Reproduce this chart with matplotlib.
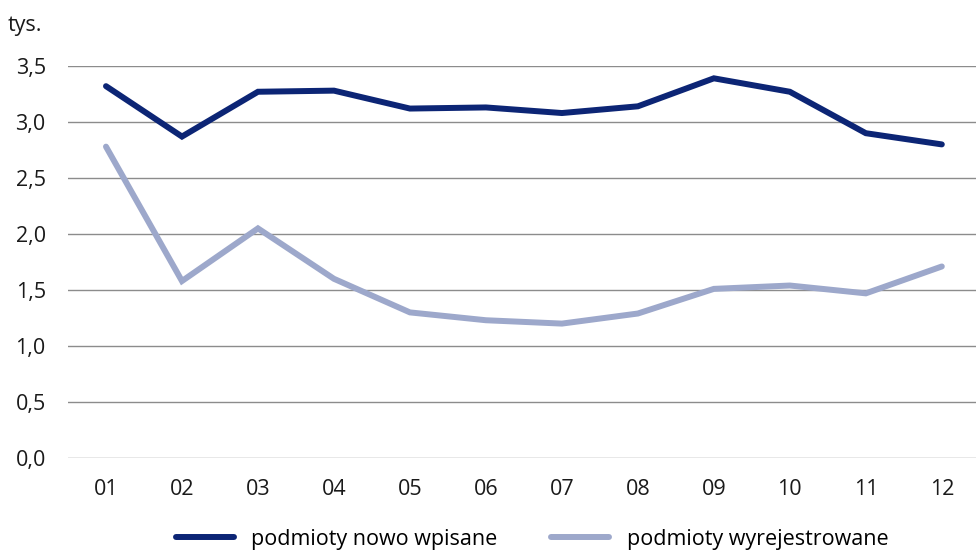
import matplotlib
matplotlib.use("Agg")
import matplotlib.pyplot as plt
from matplotlib.lines import Line2D

months = ["01", "02", "03", "04", "05", "06", "07", "08", "09", "10", "11", "12"]
nowo_wpisane = [3.32, 2.87, 3.27, 3.28, 3.12, 3.13, 3.08, 3.14, 3.39, 3.27, 2.90, 2.80]
wyrejestrowane = [2.78, 1.58, 2.05, 1.60, 1.30, 1.23, 1.20, 1.29, 1.51, 1.54, 1.47, 1.71]
y_ticks = [0.0, 0.5, 1.0, 1.5, 2.0, 2.5, 3.0, 3.5]
y_tick_labels = ["0,0", "0,5", "1,0", "1,5", "2,0", "2,5", "3,0", "3,5"]

dark = "#0c2575"
light = "#9da8cb"

plt.rcParams['font.family'] = ['Open Sans', 'DejaVu Sans']

fig = plt.figure(figsize=(9.76, 5.52), dpi=100)
ax = fig.add_axes([68/976, 1 - 458/552, 1 - 68/976, (458 - 66)/552])

x = list(range(1, len(months) + 1))
ax.plot(x, nowo_wpisane, color=dark, lw=4.3, solid_capstyle='round', solid_joinstyle='miter', zorder=3)
ax.plot(x, wyrejestrowane, color=light, lw=4.3, solid_capstyle='round', solid_joinstyle='miter', zorder=3)

ax.set_xlim(0.5, 12.45)
ax.set_ylim(0, 3.5)
ax.set_yticks(y_ticks)
ax.set_yticklabels(y_tick_labels)
ax.set_xticks(x)
ax.set_xticklabels(months)
ax.grid(axis='y', color='#8c8c8c', lw=1.0)
ax.set_axisbelow(True)
for s in ax.spines.values():
    s.set_visible(False)
ax.tick_params(axis='both', length=0, labelsize=15.5, colors='#1a1a1a')
ax.tick_params(axis='y', pad=16)
ax.tick_params(axis='x', pad=15)

fig.text(8/976, 1 - 26/552, "tys.", fontsize=15.5, color='#1a1a1a', va='center', ha='left')

handles = [Line2D([], [], color=dark, lw=4.3, solid_capstyle='round'),
           Line2D([], [], color=light, lw=4.3, solid_capstyle='round')]
fig.legend(handles, ["podmioty nowo wpisane", "podmioty wyrejestrowane"],
           loc='center', bbox_to_anchor=(532/976, 1 - 539/552), ncol=2, frameon=False,
           fontsize=15.5, handlelength=2.7, columnspacing=2.5, handletextpad=0.8)

fig.savefig("out.png", dpi=100)
